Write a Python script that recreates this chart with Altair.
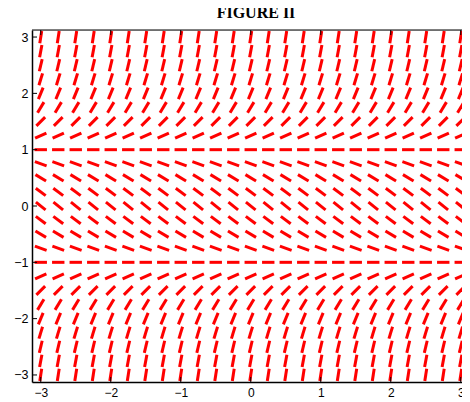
import altair as alt
import numpy as np
import pandas as pd

# grid of the slope field (dy/dx = y^2 - 1)
xs = [round(-3 + 0.25 * i, 2) for i in range(25)]
ys = [round(-3 + 0.25 * j, 2) for j in range(25)]
tick_vals = [-3, -2, -1, 0, 1, 2, 3]
title_text = ["FIGURE II"]

sx = 70.0   # px per unit, x
sy = 56.32  # px per unit, y
W, H = 430, 352
XDOM = [-3.125, -3.125 + W / sx]
YDOM = [-3.125, 3.125]
half = 6.2  # half-length of each segment, px

rows = []
for x in xs:
    for y in ys:
        m = y * y - 1
        px, py = sx * 1.0, sy * m
        n = np.hypot(px, py)
        dx = half * (px / n) / sx
        dy = half * (py / n) / sy
        rows.append({"x": x - dx, "x2": x + dx, "y": y - dy, "y2": y + dy})
df = pd.DataFrame(rows)

xsc = alt.Scale(domain=XDOM, nice=False, zero=False)
ysc = alt.Scale(domain=YDOM, nice=False, zero=False)

field = alt.Chart(df).mark_rule(color="#ff0000", strokeWidth=3, strokeCap="butt", clip=True).encode(
    x=alt.X("x:Q", scale=xsc, title=None,
            axis=alt.Axis(values=tick_vals, ticks=False, domain=True, domainColor="black",
                          domainWidth=1.5, grid=False,
                          labelFont="Liberation Sans", labelFontSize=12, labelColor="black",
                          labelPadding=5, format="d")),
    x2="x2:Q",
    y=alt.Y("y:Q", scale=ysc, title=None,
            axis=alt.Axis(values=tick_vals, ticks=False, domain=True, domainColor="black",
                          domainWidth=1.5, grid=False,
                          labelFont="Liberation Sans", labelFontSize=12.5, labelColor="black",
                          labelPadding=4, format="d")),
    y2="y2:Q",
)

tdf = pd.DataFrame({"v": tick_vals})
tk = dict(color="black", strokeWidth=1)
bottom = alt.Chart(tdf).mark_rule(**tk).encode(x=alt.X("v:Q", scale=xsc), y=alt.value(H), y2=alt.value(H - 5))
top = alt.Chart(tdf).mark_rule(**tk).encode(x=alt.X("v:Q", scale=xsc), y=alt.value(0), y2=alt.value(5))
left = alt.Chart(tdf).mark_rule(**tk).encode(y=alt.Y("v:Q", scale=ysc), x=alt.value(0), x2=alt.value(5))
topline = alt.Chart(pd.DataFrame({"a": [0]})).mark_rule(color="black", strokeWidth=1.2).encode(
    x=alt.value(0), x2=alt.value(W), y=alt.value(0))

ttl = alt.Chart(pd.DataFrame({"t": title_text})).mark_text(
    font="Liberation Serif", fontSize=16, fontWeight="bold", color="black",
    baseline="alphabetic", align="center").encode(
    text="t:N", x=alt.value(224), y=alt.value(-12))

chart = alt.layer(field, bottom, top, left, topline, ttl).properties(
    width=W, height=H,
    padding={"left": 24, "top": 22, "right": 0, "bottom": 20},
    autosize=alt.AutoSizeParams(type="none"),
).configure_view(strokeOpacity=0).configure(background="white")

chart.save("out.html", embed_options={"renderer": "svg", "actions": False})
